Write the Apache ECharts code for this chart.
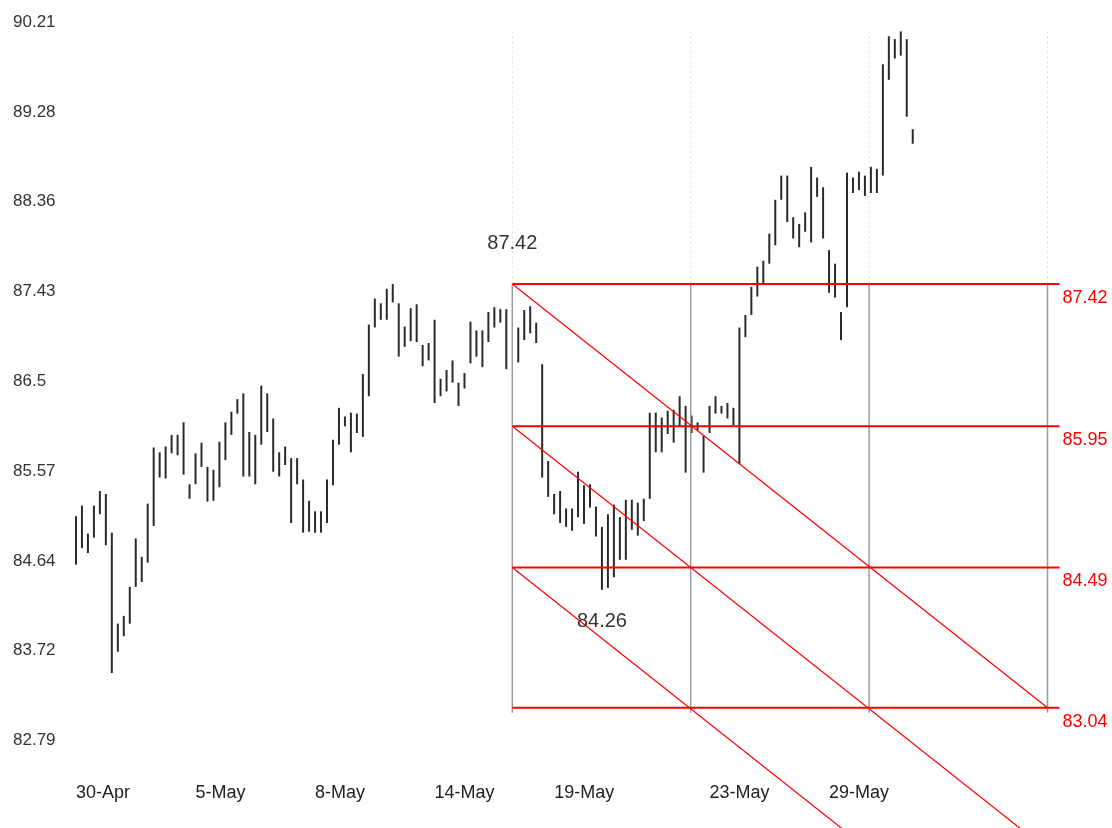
<!DOCTYPE html>
<html>
<head>
<meta charset="utf-8">
<title>Gann box</title>
<script src="https://cdn.jsdelivr.net/npm/echarts@6.0.0/dist/echarts.min.js"></script>
<style>
  html, body { margin: 0; padding: 0; background: #fff; }
  #main { width: 1112px; height: 828px; }
</style>
</head>
<body>
<div id="main"></div>
<script>
// bar highs / lows, one per bar (bar index = position on x axis)
// bar 73 sits under the box's first vertical and cannot be read: left empty
const highs = [
  85.02, 85.13, 84.84, 85.13, 85.28, 85.25, 84.85, 83.91, 83.99, 84.29,
  84.79, 84.60, 85.15, 85.73, 85.68, 85.74, 85.86, 85.86, 85.99, 85.35,
  85.67, 85.78, 85.53, 85.50, 85.79, 85.99, 86.10, 86.23, 86.29, 85.89,
  85.86, 86.37, 86.29, 86.03, 85.68, 85.74, 85.62, 85.62, 85.40, 85.18,
  85.07, 85.07, 85.40, 85.81, 86.14, 86.05, 86.09, 86.08, 86.49, 87.00,
  87.27, 87.22, 87.37, 87.42, 87.22, 86.98, 87.17, 87.21, 86.79, 86.81,
  87.05, 86.44, 86.53, 86.63, 86.40, 86.50, 87.03, 86.94, 86.94, 87.13,
  87.18, 87.16, 87.16, null, 86.97, 87.15, 87.19, 87.02, 86.59, 85.59,
  85.25, 85.28, 85.10, 85.10, 85.48, 85.34, 85.35, 85.12, 84.91, 85.04,
  85.14, 85.01, 85.19, 85.19, 85.16, 85.20, 86.09, 86.09, 86.04, 86.11,
  86.12, 86.26, 86.16, 86.06, 85.99, 85.85, 86.16, 86.26, 86.16, 86.19,
  86.14, 86.97, 87.10, 87.39, 87.60, 87.66, 87.94, 88.29, 88.54, 88.54,
  88.11, 88.04, 88.16, 88.63, 88.52, 88.42, 87.77, 87.63, 87.13, 88.57,
  88.52, 88.58, 88.54, 88.63, 88.61, 89.69, 89.98, 89.95, 90.03, 89.95,
  89.02
];
const lows = [
  84.52, 84.69, 84.64, 84.80, 85.04, 84.72, 83.40, 83.62, 83.78, 83.91,
  84.29, 84.34, 84.54, 84.92, 85.42, 85.41, 85.67, 85.65, 85.45, 85.20,
  85.35, 85.53, 85.17, 85.18, 85.32, 85.60, 85.86, 86.08, 85.43, 85.43,
  85.35, 85.76, 85.89, 85.48, 85.43, 85.55, 84.95, 85.35, 84.85, 84.86,
  84.85, 84.85, 84.95, 85.34, 85.76, 85.95, 85.68, 85.88, 85.84, 86.26,
  86.97, 87.05, 87.05, 87.23, 86.67, 86.77, 86.83, 86.82, 86.57, 86.63,
  86.19, 86.26, 86.31, 86.40, 86.16, 86.34, 86.60, 86.67, 86.56, 86.82,
  86.97, 87.02, 86.54, null, 86.61, 86.84, 86.91, 86.81, 85.42, 85.22,
  85.04, 84.95, 84.91, 84.87, 85.01, 84.94, 85.11, 84.81, 84.26, 84.28,
  84.39, 84.57, 84.57, 84.88, 84.82, 84.97, 85.20, 85.68, 85.68, 85.87,
  85.78, 85.95, 85.47, 85.88, 85.91, 85.47, 85.88, 86.08, 86.08, 86.03,
  85.96, 85.56, 86.87, 87.10, 87.29, 87.42, 87.63, 87.82, 88.29, 88.06,
  87.89, 87.80, 87.96, 87.85, 88.32, 87.89, 87.33, 87.28, 86.84, 87.18,
  88.36, 88.39, 88.33, 88.36, 88.36, 88.54, 89.53, 89.75, 89.78, 89.15,
  88.87
];

// axis ticks
const xTickIndex = [0, 20, 40, 60, 80, 106, 126];
const xTickLabels = ['30-Apr', '5-May', '8-May', '14-May', '19-May', '23-May', '29-May'];
const yTickLabels = ['82.79', '83.72', '84.64', '85.57', '86.5', '87.43', '88.36', '89.28', '90.21'];
const yTickValues = yTickLabels.map(Number);

// gann box: price levels, start bar and bar step between verticals
const gannLevels = [87.42, 85.95, 84.49, 83.04];
const gannStart = 73;
const gannStep = 29.85;
const swingLow = { bar: 88, value: 84.26 };

const font = 'Liberation Sans, Arial, sans-serif';
const gannEnd = gannStart + 3 * gannStep;
const hEnd = gannEnd + 2;
const boxTop = Math.max(...highs.filter(function (h) { return h != null; }));
const drop = gannLevels[0] - gannLevels[3];

function seg(a, b, lineStyle, z) {
  return {
    type: 'line', data: [a, b], symbol: 'none', clip: false,
    silent: true, animation: false, lineStyle: lineStyle, z: z
  };
}

let overlay = [];
// verticals
for (let k = 0; k < 4; k++) {
  let x = gannStart + k * gannStep;
  overlay.push(seg([x, boxTop], [x, gannLevels[0]], { color: '#dcdcdc', width: 1, type: [2, 3] }, 3));
  overlay.push(seg([x, gannLevels[0]], [x, gannLevels[3] - 0.05], { color: '#9a9a9a', width: 1.5 }, 4));
}
// horizontals
gannLevels.forEach(function (lv) {
  overlay.push(seg([gannStart, lv], [hEnd, lv], { color: '#ff0000', width: 2 }, 5));
});
// diagonals
for (let k = 0; k < 3; k++) {
  overlay.push(seg([gannStart, gannLevels[k]], [gannEnd, gannLevels[k] - drop], { color: '#ff0000', width: 1.2 }, 5));
}

let bars = [];
highs.forEach(function (h, i) {
  if (h != null) bars.push([i, h, lows[i]]);
});

let myChart = echarts.init(document.getElementById('main'));
myChart.setOption({
  animation: false,
  backgroundColor: '#fff',
  grid: { left: 70, right: 8, top: 14, bottom: 96 },
  xAxis: {
    type: 'value',
    min: -1,
    max: 172,
    axisLine: { show: false },
    axisTick: { show: false },
    splitLine: { show: false },
    axisLabel: {
      customValues: xTickIndex,
      formatter: function (v) { return xTickLabels[xTickIndex.indexOf(v)]; },
      align: 'left',
      margin: 52,
      color: '#222',
      fontSize: 18,
      fontFamily: font
    }
  },
  yAxis: {
    type: 'value',
    min: 82.79,
    max: 90.21,
    axisLine: { show: false },
    axisTick: { show: false },
    splitLine: { show: false },
    axisLabel: {
      customValues: yTickValues,
      formatter: function (v) { return yTickLabels[yTickValues.indexOf(v)]; },
      align: 'left',
      verticalAlign: 'top',
      margin: 57,
      color: '#333',
      fontSize: 17,
      fontFamily: font
    }
  },
  series: [
    {
      type: 'custom',
      z: 2,
      silent: true,
      data: bars,
      encode: { x: 0, y: [1, 2] },
      renderItem: function (params, api) {
        let top = api.coord([api.value(0), api.value(1)]);
        let bot = api.coord([api.value(0), api.value(2)]);
        return {
          type: 'line',
          shape: { x1: top[0], y1: top[1], x2: bot[0], y2: bot[1] },
          style: { stroke: '#2a2a2a', lineWidth: 2 }
        };
      }
    }
  ].concat(overlay).concat([
    {
      type: 'scatter',
      symbolSize: 0,
      silent: true,
      z: 6,
      itemStyle: { opacity: 1 },
      data: gannLevels.map(function (lv) { return [hEnd, lv]; }),
      label: {
        show: true,
        position: [3, 5],
        align: 'left',
        verticalAlign: 'top',
        formatter: function (p) { return p.value[1].toFixed(2); },
        color: '#ff0000',
        fontSize: 18,
        fontFamily: font
      }
    },
    {
      type: 'scatter',
      symbolSize: 0,
      silent: true,
      z: 6,
      itemStyle: { opacity: 1 },
      data: [
        { value: [gannStart, gannLevels[0]], label: { position: 'top', distance: 30 } },
        { value: [swingLow.bar, swingLow.value], label: { position: 'bottom', distance: 22 } }
      ],
      label: {
        show: true,
        formatter: function (p) { return p.value[1].toFixed(2); },
        color: '#333',
        fontSize: 20,
        fontFamily: font
      }
    }
  ])
});
</script>
</body>
</html>
